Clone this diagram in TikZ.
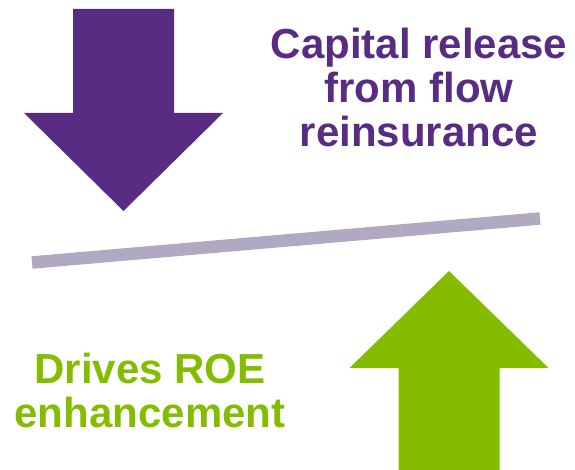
\documentclass[tikz,border=0pt]{standalone}
\usepackage{fontspec}
\setmainfont{Liberation Sans}
\definecolor{capitalpurple}{HTML}{582C83}
\definecolor{roegreen}{HTML}{84BD00}
\definecolor{beamgrey}{HTML}{B1A9C1}
\begin{document}
\begin{tikzpicture}[x=1pt,y=-1pt,font=\fontsize{42}{44}\selectfont\bfseries]
\useasboundingbox (0,0) rectangle (575,470);
\pgfmathsetmacro{\sw}{50.5}
\pgfmathsetmacro{\hw}{99.5}
\pgfmathsetmacro{\px}{123.5}
\pgfmathsetmacro{\gx}{449}
% down arrow
\fill[capitalpurple](\px-\sw,9)--(\px+\sw,9)--(\px+\sw,113)--(\px+\hw,113)--(\px,211)--(\px-\hw,113)--(\px-\sw,113)--cycle;
% up arrow
\fill[roegreen](\gx-\sw,475)--(\gx-\sw,368)--(\gx-\hw,368)--(\gx,271)--(\gx+\hw,368)--(\gx+\sw,368)--(\gx+\sw,475)--cycle;
% beam
\draw[beamgrey,line width=12.5pt](32,262.5)--(540,218.5);
\node[capitalpurple,align=center,inner sep=0pt](release) at (419,87){Capital release\\from flow\\reinsurance};
\node[roegreen,align=center,inner sep=0pt](roe) at (150,390){Drives ROE\\enhancement};
\end{tikzpicture}
\end{document}
